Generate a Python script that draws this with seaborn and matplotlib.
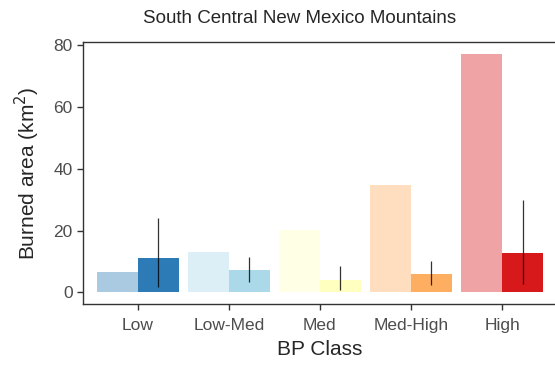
import numpy as np
import pandas as pd
import matplotlib
matplotlib.use("Agg")
import matplotlib.pyplot as plt
import seaborn as sns

# data
classes = ["Low", "Low-Med", "Med", "Med-High", "High"]
observed = [6.5, 13.1, 20.3, 34.7, 77.0]
predicted = [11.2, 7.1, 3.9, 6.0, 12.8]
pred_lo = [1.7, 3.3, 0.7, 2.3, 2.8]
pred_hi = [24.1, 11.4, 8.5, 10.1, 30.0]
class_colors = ["#2c7bb6", "#abd9e9", "#ffffbf", "#fdae61", "#d7191c"]

df = pd.DataFrame({
    "BP Class": classes * 2,
    "area": observed + predicted,
    "kind": ["observed"] * 5 + ["predicted"] * 5,
})

sns.set_style("white")
plt.rcParams["font.family"] = ["Liberation Sans", "DejaVu Sans"]

fig = plt.figure(figsize=(5.55, 3.66), dpi=100)
ax = fig.add_axes([0.1495, 0.1685, 0.8537, 0.716])

sns.barplot(data=df, x="BP Class", y="area", hue="kind", order=classes,
            hue_order=["observed", "predicted"], dodge=True, width=0.9,
            errorbar=None, legend=False, ax=ax)

# recolour: faded class colour for observed, full class colour for predicted
for kind_idx, cont in enumerate(ax.containers):
    for i, bar in enumerate(cont.patches):
        bar.set_facecolor(class_colors[i])
        bar.set_alpha(0.4 if kind_idx == 0 else 1.0)
        bar.set_edgecolor("none")

# error bars on the predicted bars
pred_bars = ax.containers[1].patches
xs = [b.get_x() + b.get_width() / 2 for b in pred_bars]
ax.vlines(xs, pred_lo, pred_hi, color="black", lw=0.9, alpha=0.8, zorder=5)

ax.set_xlim(-0.6, 4.6)
ax.set_ylim(-3.85, 80.85)
ax.set_yticks([0, 20, 40, 60, 80])

ax.set_xlabel("BP Class", fontsize=15, labelpad=5)
ax.set_ylabel("Burned area (km$^2$)", fontsize=15, labelpad=8)
ax.tick_params(axis="both", labelsize=12.5, colors="#333333", labelcolor="#4d4d4d",
               length=4, width=1, direction="out", left=True, bottom=True)
ax.tick_params(axis="x", pad=6)
for side in ["top", "left", "bottom", "right"]:
    ax.spines[side].set_visible(True)
    ax.spines[side].set_color("#333333")
    ax.spines[side].set_linewidth(1)

fig.text(0.539, 0.95, "South Central New Mexico Mountains", ha="center", va="center",
         fontsize=13.5)

fig.savefig("out.png", dpi=100)
